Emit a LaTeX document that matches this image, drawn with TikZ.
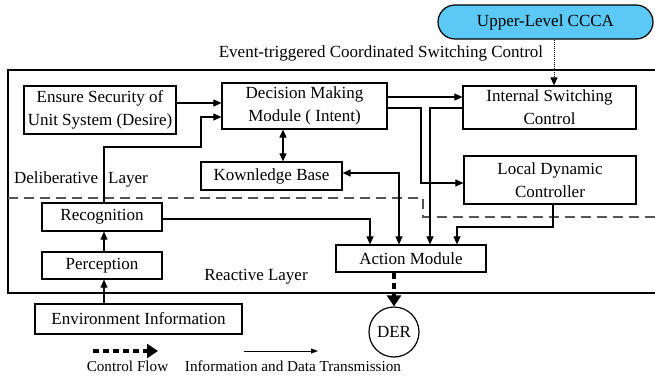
\documentclass[tikz,border=0pt]{standalone}
\usepackage{fontspec}
\setmainfont{Liberation Serif}
\usetikzlibrary{arrows.meta,calc}
\definecolor{cccablue}{HTML}{5BC8F5}
\definecolor{divgray}{HTML}{555555}
\tikzset{
  box/.style={draw,line width=1.2pt,inner sep=0pt,align=center},
  arr/.style={line width=1.1pt,-{Triangle[length=8pt,width=7pt]}},
  darr/.style={line width=1.1pt,{Triangle[length=8pt,width=7pt]}-{Triangle[length=8pt,width=7pt]}},
  ctrl/.style={line width=4pt,dash pattern=on 6pt off 4pt,-{Triangle[length=11pt,width=14pt]}},
  lbl/.style={inner sep=0pt},
  legend/.style={inner sep=0pt,font=\fontsize{15.2}{18}\selectfont}
}
\begin{document}
\begin{tikzpicture}[x=1pt,y=-1pt,every node/.style={font=\fontsize{17}{23}\selectfont}]
\useasboundingbox (0,0) rectangle (655,379);
% frame
\draw[line width=2.6pt] (655,70) -- (8,70) -- (8,293) -- (655,293);
% divider
\draw[divgray,line width=1.8pt,dash pattern=on 10pt off 6pt] (8,198) -- (423,198) -- (423,217) -- (655,217);
% nodes
\node[box,rounded corners=17pt,fill=cccablue,minimum width=215pt,minimum height=34pt] (ccca) at (545.5,22) {Upper-Level CCCA};
\node[lbl] (evt) at (381,53) {Event-triggered Coordinated Switching Control};
\node[box,minimum width=152pt,minimum height=48pt] (ensure) at (100,110) {Ensure Security of\\Unit System (Desire)};
\node[box,minimum width=165pt,minimum height=46pt] (dec) at (304.5,106) {Decision Making\\Module ( Intent)};
\node[box,minimum width=141pt,minimum height=28pt] (kb) at (271.5,176) {Kownledge Base};
\node[box,minimum width=173pt,minimum height=43pt] (isc) at (549.5,107.5) {Internal Switching\\Control};
\node[box,minimum width=172pt,minimum height=48pt] (ldc) at (550,180) {Local Dynamic\\Controller};
\node[box,minimum width=120pt,minimum height=28pt] (rec) at (102,217) {Recognition};
\node[box,minimum width=120pt,minimum height=27pt] (per) at (102,265.5) {Perception};
\node[box,minimum width=207pt,minimum height=30pt] (env) at (138.5,319) {Environment Information};
\node[box,minimum width=150pt,minimum height=27pt] (act) at (411,258.5) {Action Module};
\node[draw,circle,line width=1.2pt,minimum size=50pt,inner sep=0pt] (der) at (394,332) {DER};
\node[lbl] (dl) at (81,179) {Deliberative\hspace{10pt}Layer};
\node[lbl] (rl) at (256,277) {Reactive Layer};
\node[legend] (cf) at (127.5,366) {Control Flow};
\node[legend] (idt) at (293,366) {Information and Data Transmission};
% connectors
\draw[line width=1pt,densely dotted,-{Triangle[length=8pt,width=7pt]}] (ccca.south -| 554,0) -- (isc.north -| 554,0);
\draw[arr] (ensure.east |- 0,103) -- (dec.west |- 0,103);
\draw[arr] (rec.north -| 104,0) -- (104,147) -- (201,147) -- (201,117) -- (dec.west |- 0,117);
\draw[darr] (dec.south -| 283,0) -- (kb.north -| 283,0);
\draw[arr] (dec.east |- 0,97) -- (isc.west |- 0,97);
\draw[arr] (dec.east |- 0,108) -- (421,108) -- (421,183) -- (ldc.west |- 0,183);
\draw[arr] (isc.west |- 0,108) -- (430,108) -- (act.north -| 430,0);
\draw[darr] (kb.east |- 0,173) -- (399,173) -- (act.north -| 399,0);
\draw[arr] (rec.east |- 0,219) -- (370,219) -- (act.north -| 370,0);
\draw[arr] (ldc.south -| 553,0) -- (553,227) -- (457,227) -- (act.north -| 457,0);
\draw[arr] (per.north -| 104,0) -- (rec.south -| 104,0);
\draw[arr] (env.north -| 104,0) -- (per.south -| 104,0);
\draw[ctrl] (act.south -| 394,0) -- (der.north);
% legend
\coordinate (c1) at (93,351);
\coordinate (c2) at (158,351);
\coordinate (i1) at (244,351);
\coordinate (i2) at (318,351);
\draw[ctrl] (c1) -- (c2);
\draw[line width=1pt,-{Triangle[length=7pt,width=5pt]}] (i1) -- (i2);
\end{tikzpicture}
\end{document}
